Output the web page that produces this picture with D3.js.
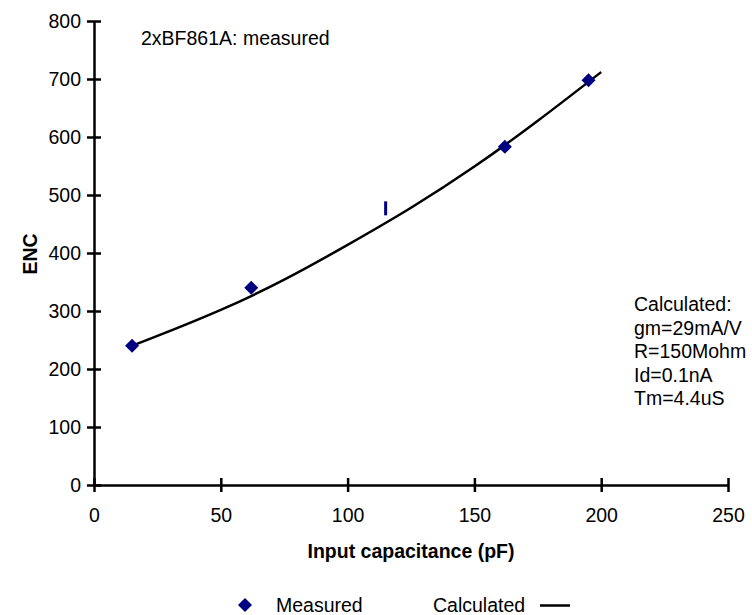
<!DOCTYPE html>
<html>
<head>
<meta charset="utf-8">
<script src="https://cdn.jsdelivr.net/npm/d3@7"></script>
<style>
  html, body { margin: 0; padding: 0; background: #fff; }
  svg { display: block; font-family: "Liberation Sans", Arial, sans-serif; }
</style>
</head>
<body>
<svg id="chart" width="752" height="615"></svg>
<script>
// ---- data ----
const measuredX = [15, 62, 162, 195];
const measuredY = [240, 340, 583, 698];
const barX = [115];
const barY = [477];
const calcX = [15, 25, 50, 75, 100, 125, 150, 175, 200];
const calcY = [240, 257, 302, 354, 414, 478, 549, 628, 712];
const xTicks = [0, 50, 100, 150, 200, 250];
const yTicks = [0, 100, 200, 300, 400, 500, 600, 700, 800];
const titleText = "2xBF861A: measured";
const noteLines = ["Calculated:", "gm=29mA/V", "R=150Mohm", "Id=0.1nA", "Tm=4.4uS"];
const xTitle = "Input capacitance (pF)";
const yTitle = "ENC";
const legendNames = ["Measured", "Calculated"];

// ---- layout ----
const svg = d3.select("#chart");
const x = d3.scaleLinear().domain([0, 250]).range([94, 728]);
const y = d3.scaleLinear().domain([0, 800]).range([485, 21]);
const navy = "#000080";
const fs = 19.5;

// axes
const xAxis = svg.append("g").attr("transform", `translate(0,${y(0)})`)
  .call(d3.axisBottom(x).tickValues(xTicks).tickSizeInner(0).tickSizeOuter(0).tickPadding(0));
xAxis.select(".domain").attr("stroke", "#000").attr("stroke-width", 2.5);
xAxis.selectAll(".tick line").remove();
xAxis.selectAll(".tick").append("line").attr("y1", -7).attr("y2", 7).attr("stroke", "#000").attr("stroke-width", 2.5);
xAxis.selectAll(".tick text").attr("y", 37).attr("dy", null).attr("font-size", fs).attr("fill", "#000");

const yAxis = svg.append("g").attr("transform", `translate(${x(0)},0)`)
  .call(d3.axisLeft(y).tickValues(yTicks).tickSizeInner(0).tickSizeOuter(0).tickPadding(0));
yAxis.select(".domain").attr("stroke", "#000").attr("stroke-width", 2.5);
yAxis.selectAll(".tick line").remove();
yAxis.selectAll(".tick").append("line").attr("x1", -7).attr("x2", 7).attr("stroke", "#000").attr("stroke-width", 2.5);
yAxis.selectAll(".tick text").attr("x", -13).attr("dy", "0.35em").attr("font-size", fs).attr("fill", "#000");
svg.selectAll("g").attr("font-family", null);

// calculated curve
const line = d3.line().x((d, i) => x(calcX[i])).y(d => y(d)).curve(d3.curveNatural);
svg.append("path").datum(calcY).attr("d", line)
  .attr("fill", "none").attr("stroke", "#000").attr("stroke-width", 2.5);

// measured diamonds
const diamond = d3.symbol(d3.symbolSquare, 98);
svg.selectAll(".pt").data(measuredY).join("path").attr("class", "pt")
  .attr("d", diamond)
  .attr("transform", (d, i) => `translate(${x(measuredX[i])},${y(d)}) rotate(45)`)
  .attr("fill", navy);

// vertical bar marker
svg.selectAll(".bar").data(barY).join("line").attr("class", "bar")
  .attr("x1", (d, i) => x(barX[i])).attr("x2", (d, i) => x(barX[i]))
  .attr("y1", d => y(d) - 7).attr("y2", d => y(d) + 7)
  .attr("stroke", navy).attr("stroke-width", 3);

// texts
svg.append("text").attr("x", 141).attr("y", 45).attr("font-size", fs).text(titleText);
svg.append("g").selectAll("text").data(noteLines).join("text")
  .attr("x", 634).attr("y", (d, i) => 311 + i * 23.5).attr("font-size", fs).text(d => d);
svg.append("text").attr("x", (x(0) + x(250)) / 2).attr("y", 558).attr("text-anchor", "middle")
  .attr("font-size", fs).attr("font-weight", "bold").text(xTitle);
svg.append("text").attr("transform", "translate(37,254) rotate(-90)").attr("text-anchor", "middle")
  .attr("font-size", fs).attr("font-weight", "bold").text(yTitle);

// legend
const lg = svg.append("g");
lg.append("path").attr("d", diamond).attr("transform", "translate(245,605) rotate(45)").attr("fill", navy);
lg.append("text").attr("x", 276).attr("y", 612).attr("font-size", fs).text(legendNames[0]);
lg.append("text").attr("x", 433).attr("y", 612).attr("font-size", fs).text(legendNames[1]);
lg.append("line").attr("x1", 540).attr("x2", 570).attr("y1", 605.5).attr("y2", 605.5)
  .attr("stroke", "#000").attr("stroke-width", 2.5);
</script>
</body>
</html>
